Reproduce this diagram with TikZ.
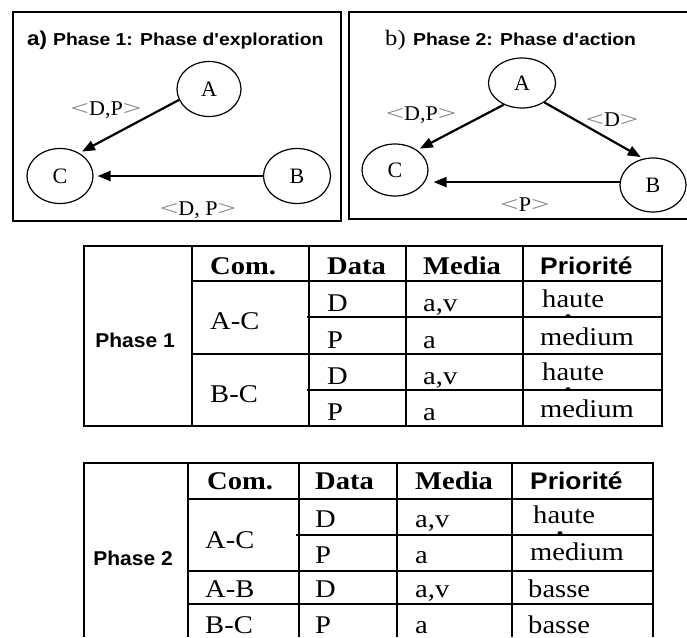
\documentclass[tikz,border=0pt]{standalone}
\usepackage{fontspec}
\setmainfont{Liberation Serif}
\newfontfamily\arialf{Liberation Sans}
\usetikzlibrary{arrows.meta,shapes.geometric}
\newcommand\myLt{\scalebox{1.5}[1]{\textcolor{gray}{<}}}
\newcommand\myGt{\scalebox{1.5}[1]{\textcolor{gray}{>}}}
\begin{document}
\begin{tikzpicture}[x=1pt,y=-1pt,
 ell/.style={ellipse,draw,line width=1.2pt,inner sep=0pt,minimum width=66pt,minimum height=55pt,font=\fontsize{22}{22}\selectfont},
 arr/.style={line width=2.2pt,-{Triangle[length=13pt,width=10pt]}},
 lbl/.style={anchor=base,inner sep=0pt,xscale=1.05,font=\fontsize{21}{21}\selectfont},
 ttl/.style={anchor=base west,inner sep=0pt,xscale=1.12,font=\arialf\bfseries\fontsize{17.3}{17.3}\selectfont},
 frame/.style={line width=1.8pt},
 tline/.style={line width=1.8pt},
 cell/.style={anchor=base west,inner sep=0pt,text depth=0pt,xscale=1.12,font=\fontsize{25.5}{25.5}\selectfont},
 hcell/.style={cell,font=\bfseries\fontsize{25.5}{25.5}\selectfont},
 pcell/.style={anchor=base west,inner sep=0pt,text depth=0pt,xscale=1.1,font=\arialf\bfseries\fontsize{24}{24}\selectfont},
 phase/.style={anchor=base east,inner sep=0pt,xscale=1.05,font=\arialf\bfseries\fontsize{20}{20}\selectfont},
 blob/.style={fill=black,draw=none},
]
\fill[white] (0,0) rectangle (687,637);
\useasboundingbox (0,0) rectangle (687,637);

% ---------- panel a ----------
\draw[frame] (13,12) rectangle (341,221);
\node[ttl,font=\arialf\bfseries\fontsize{20}{20}\selectfont] (ta1) at (27,45) {a)};
\node[ttl] (ta2) at (53,45) {Phase 1: Phase d'exploration};
\node[ell,minimum width=64pt,minimum height=55pt] (aA) at (209,89) {A};
\node[ell] (aC) at (60,176) {C};
\node[ell,minimum width=67pt] (aB) at (297,176) {B};
\draw[arr,shorten >=3pt] (aA.200) -- (aC.50);
\draw[arr,shorten >=4pt] (aB) -- (aC);
\node[lbl] (la1) at (106,115) {\myLt D,P\myGt};
\node[lbl] (la2) at (198,215) {\myLt D, P\myGt};

% ---------- panel b ----------
\draw[frame] (687,12) -- (349,12) -- (349,219) -- (687,219);
\node[ttl,font=\fontsize{22}{22}\selectfont] (tb1) at (385,45) {b)};
\node[ttl] (tb2) at (413,45) {Phase 2: Phase d'action};
\node[ell,minimum width=67pt,minimum height=50pt] (bA) at (522,83) {A};
\node[ell,minimum height=52pt] (bC) at (395,170) {C};
\node[ell,minimum width=66pt,minimum height=54pt] (bB) at (653,185) {B};
\draw[arr,shorten >=3pt] (bA.230) -- (bC.42);
\draw[arr,shorten >=3pt] (bA.319) -- (bB.110);
\draw[arr,shorten >=5pt] (bB.175) -- (bC.east |- bB.175);
\node[lbl] (lb1) at (421,120) {\myLt D,P\myGt};
\node[lbl] (lb2) at (612,126) {\myLt D\myGt};
\node[lbl] (lb3) at (525,211) {\myLt P\myGt};

% ---------- table 1 ----------
\draw[tline] (84,246) rectangle (662,426);
\foreach \x in {192,309,406,523} \draw[tline] (\x,246) -- (\x,426);
\draw[tline] (192,281) -- (662,281);
\draw[tline] (192,354) -- (662,354);
\draw[tline] (306.5,317) -- (662,317);
\draw[tline] (306.5,390) -- (662,390);
\node[phase] (p1) at (175,347) {Phase 1};
\node[hcell] (h1a) at (210,274) {Com.};
\node[hcell] (h1b) at (327,274) {Data};
\node[hcell] (h1c) at (423,274) {Media};
\node[pcell] (h1d) at (540,274) {Priorité};
\node[cell] (c1ac) at (210,329) {A-C};
\node[cell] (c1bc) at (210,402) {B-C};
\node[cell] (d11) at (327,311) {D};
\node[cell] (d12) at (327,348) {P};
\node[cell] (d13) at (327,384) {D};
\node[cell] (d14) at (327,420) {P};
\node[cell] (m11) at (423,311) {a,v};
\node[cell] (m12) at (423,348) {a};
\node[cell] (m13) at (423,384) {a,v};
\node[cell] (m14) at (423,420) {a};
\node[cell] (q11) at (542,307) {haute};
\node[cell] (q12) at (540,345) {medium};
\node[cell] (q13) at (542,380) {haute};
\node[cell] (q14) at (540,417) {medium};
\fill[blob] (568,316) ellipse (2.5pt and 1.8pt);
\fill[blob] (568,389) ellipse (2.5pt and 1.8pt);

% ---------- table 2 ----------
\draw[tline] (84,637) -- (84,463) -- (653,463) -- (653,637);
\foreach \x in {188,299,397,512} \draw[tline] (\x,463) -- (\x,637);
\draw[tline] (188,499) -- (653,499);
\draw[tline] (296,535) -- (653,535);
\draw[tline] (188,571) -- (653,571);
\draw[tline] (188,604) -- (653,604);
\node[phase] (p2) at (173,565) {Phase 2};
\node[hcell] (h2a) at (207,489) {Com.};
\node[hcell] (h2b) at (315,489) {Data};
\node[hcell] (h2c) at (415,489) {Media};
\node[pcell] (h2d) at (530,489) {Priorité};
\node[cell] (c2ac) at (205,548) {A-C};
\node[cell] (c2ab) at (205,597) {A-B};
\node[cell] (c2bc) at (205,633) {B-C};
\node[cell] (d21) at (315,527) {D};
\node[cell] (d22) at (315,563) {P};
\node[cell] (d23) at (315,597) {D};
\node[cell] (d24) at (315,633) {P};
\node[cell] (m21) at (415,527) {a,v};
\node[cell] (m22) at (415,563) {a};
\node[cell] (m23) at (415,597) {a,v};
\node[cell] (m24) at (415,633) {a};
\node[cell] (q21) at (533,523) {haute};
\node[cell] (q22) at (530,560) {medium};
\node[cell] (q23) at (528,597) {basse};
\node[cell] (q24) at (528,633) {basse};
\fill[blob] (560,533) ellipse (2.5pt and 1.8pt);
\end{tikzpicture}
\end{document}
